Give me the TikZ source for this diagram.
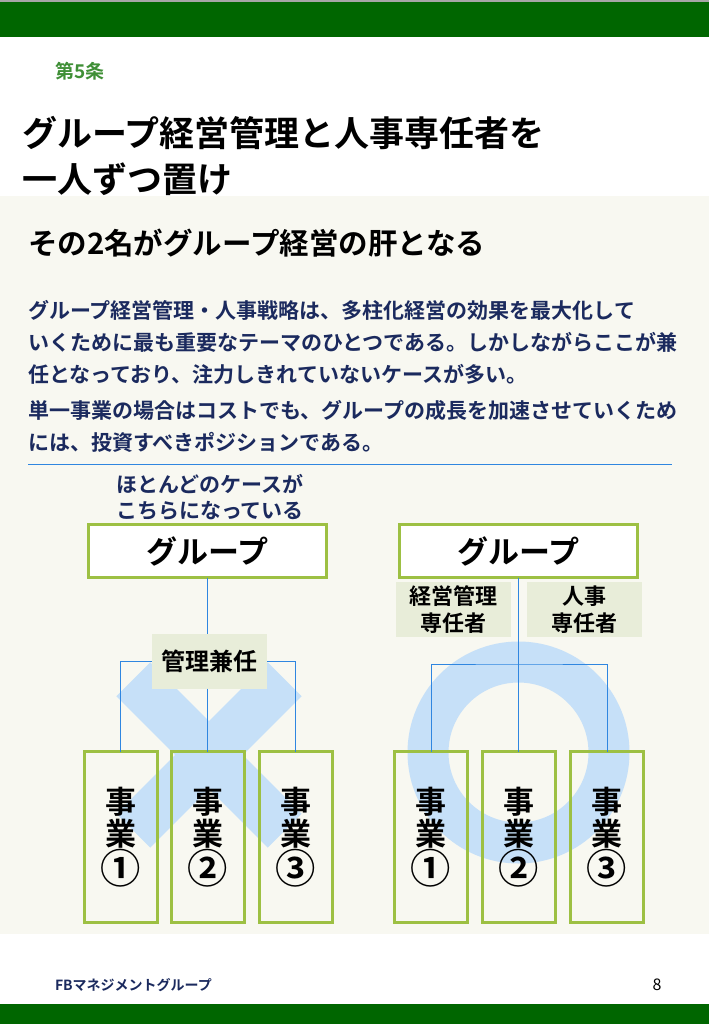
\documentclass[tikz,border=0pt]{standalone}
\usepackage{fontspec}
\setmainfont{Noto Sans CJK JP}[BoldFont={Noto Sans CJK JP Bold}]
\usetikzlibrary{positioning}

\definecolor{bargreen}{HTML}{006600}
\definecolor{capgreen}{HTML}{3F8F36}
\definecolor{framegreen}{HTML}{9DC043}
\definecolor{tagfill}{HTML}{E8EDD9}
\definecolor{linkblue}{HTML}{2F86E0}
\definecolor{signblue}{HTML}{C6E0F8}
\definecolor{inkblue}{HTML}{1B2A5E}
\definecolor{cream}{HTML}{F8F8F1}

\newcommand{\circnum}[1]{\raisebox{-2pt}{\scalebox{1.3}{#1}}}

\begin{document}
\begin{tikzpicture}[
  x=1pt, y=-1pt,
  every node/.style={inner sep=0pt, outer sep=0pt},
  headline/.style={anchor=west, font=\fontsize{35}{46}\selectfont\bfseries},
  lead/.style={anchor=west, font=\fontsize{29.5}{34}\selectfont\bfseries},
  bodytext/.style={anchor=west, align=left, text=inkblue,
                   font=\fontsize{21}{32}\selectfont\bfseries},
  groupbox/.style={rectangle, draw=framegreen, line width=3pt, fill=white,
                   minimum width=238pt, minimum height=53pt,
                   font=\fontsize{31}{32}\selectfont\bfseries},
  bizbox/.style={rectangle, draw=framegreen, line width=3pt,
                 minimum width=73pt, minimum height=171pt, align=center,
                 font=\fontsize{31}{32}\selectfont\bfseries},
  tagbox/.style={rectangle, fill=tagfill, minimum width=115pt,
                 minimum height=55pt, align=center,
                 font=\fontsize{22}{27}\selectfont\bfseries},
  link/.style={draw=linkblue, line width=1pt},
  sign/.style={fill=signblue}
]
  \useasboundingbox (0,0) rectangle (709,1024);

  % Page frame
  \fill[white] (0,0) rectangle (709,1024);
  \fill[black!35] (0,0) rectangle (709,2);
  \fill[bargreen] (0,2) rectangle (709,37);
  \fill[cream] (0,196) rectangle (709,934);
  \fill[bargreen] (0,1004) rectangle (709,1024);

  % Headings
  \node[anchor=west, text=capgreen, font=\fontsize{19}{20}\selectfont\bfseries]
    (article) at (55,71) {第5条};
  \node[headline] (title1) at (22,133) {グループ経営管理と人事専任者を};
  \node[headline] (title2) at (22,179) {一人ずつ置け};
  \node[lead] (subtitle) at (28,243) {その2名がグループ経営の肝となる};

  % Body text
  \node[bodytext] (para1) at (28,342)
    {グループ経営管理・人事戦略は、多柱化経営の効果を最大化して\\
     いくために最も重要なテーマのひとつである。しかしながらここが兼\\
     任となっており、注力しきれていないケースが多い。};
  \node[bodytext] (para2) at (28,426)
    {単一事業の場合はコストでも、グループの成長を加速させていくため\\
     には、投資すべきポジションである。};
  \draw[link] (28,464) -- (672,464);

  % Cross and circle marks (behind the charts)
  \fill[sign, rotate around={45:(209,755)}] (102,731) rectangle (316,779);
  \fill[sign, rotate around={-45:(209,755)}] (102,731) rectangle (316,779);
  \draw[signblue, line width=41pt] (518.5,752.5) circle[radius=90.5pt];

  % Left chart: shared post
  \node[align=center, text=inkblue, font=\fontsize{21}{26}\selectfont\bfseries]
    (note) at (210,497) {ほとんどのケースが\\こちらになっている};
  \node[groupbox] (lgroup) at (207.5,551) {グループ};
  \node[tagbox, font=\fontsize{24}{26}\selectfont\bfseries] (lshare) at (209.5,661) {管理兼任};
  \node[bizbox] (lbiz2) at (207.5,837) {事\\業\\\circnum{②}};
  \node[bizbox, left=14pt of lbiz2] (lbiz1) {事\\業\\\circnum{①}};
  \node[bizbox, right=15pt of lbiz2] (lbiz3) {事\\業\\\circnum{③}};

  % Right chart: two dedicated posts
  \node[groupbox] (rgroup) at (518.5,551) {グループ};
  \node[tagbox] (rtag1) at (453.5,609.5) {経営管理\\専任者};
  \node[tagbox] (rtag2) at (584.5,609.5) {人事\\専任者};
  \node[bizbox] (rbiz2) at (519,837) {事\\業\\\circnum{②}};
  \node[bizbox, left=15pt of rbiz2] (rbiz1) {事\\業\\\circnum{①}};
  \node[bizbox, right=15pt of rbiz2] (rbiz3) {事\\業\\\circnum{③}};
  \coordinate (rhub) at (519,664);

  % Connectors
  \draw[link] (lgroup.south) -- (lgroup.south |- lshare.north);
  \draw[link] (lshare.south -| lbiz2.north) -- (lbiz2.north);
  \draw[link] (lbiz1.north) |- (lshare);
  \draw[link] (lbiz3.north) |- (lshare);
  \draw[link] (rgroup.south) -- (rgroup.south |- rbiz2.north);
  \draw[link] (rbiz1.north) |- (rhub) -| (rbiz3.north);

  % Footer
  \node[anchor=west, text=inkblue, font=\fontsize{14}{16}\selectfont\bfseries]
    (footer) at (55,985) {FBマネジメントグループ};
  \node[font=\fontsize{16}{18}\selectfont] (page) at (657,985) {8};
\end{tikzpicture}
\end{document}
